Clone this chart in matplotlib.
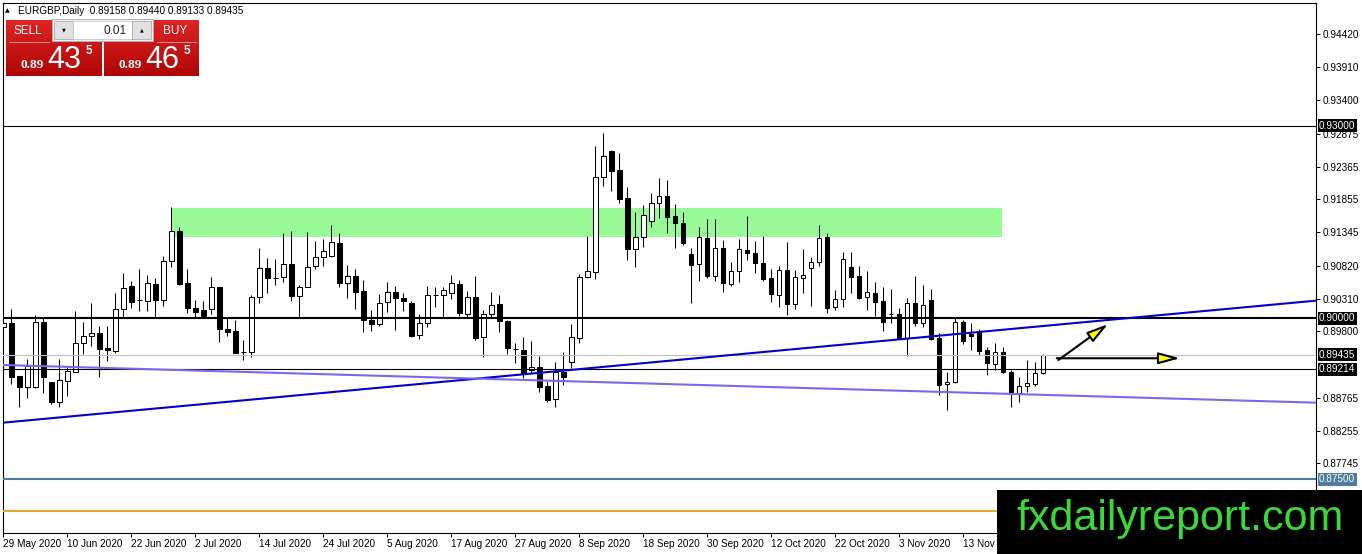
import numpy as np
import matplotlib
matplotlib.use("Agg")
import matplotlib.pyplot as plt
from matplotlib.patches import Rectangle

plt.rcParams['font.family'] = ['Liberation Sans', 'DejaVu Sans']

# EURGBP daily candles, 29 May 2020 .. 27 Nov 2020 (bar index 0..130)
opens = [0.89872, 0.89925, 0.89105, 0.88939, 0.88939, 0.89941, 0.89007, 0.88705, 0.89032, 0.89172,
         0.89614, 0.89728, 0.89770, 0.89536, 0.89494, 0.90143, 0.90506, 0.90288, 0.90277, 0.90532,
         0.90283, 0.90890, 0.91357, 0.90548, 0.90159, 0.90132, 0.90148, 0.90485, 0.89832, 0.89805,
         0.89474, 0.89483, 0.90330, 0.90781, 0.90626, 0.90650, 0.90843, 0.90355, 0.90495, 0.90822,
         0.90962, 0.90977, 0.91179, 0.90548, 0.90666, 0.90428, 0.89977, 0.89914, 0.90252, 0.90408,
         0.90314, 0.90246, 0.89743, 0.89925, 0.90366, 0.90366, 0.90392, 0.90532, 0.90065, 0.90330,
         0.89707, 0.90065, 0.90226, 0.89966, 0.89525, 0.89510, 0.89199, 0.89241, 0.88950, 0.88743,
         0.89172, 0.89328, 0.89692, 0.90650, 0.90728, 0.92206, 0.92606, 0.92311, 0.91870, 0.91077,
         0.91273, 0.91522, 0.91793, 0.91906, 0.91595, 0.91481, 0.91004, 0.90843, 0.91257, 0.90666,
         0.91092, 0.90532, 0.90739, 0.91066, 0.91024, 0.90868, 0.90626, 0.90366, 0.90755, 0.90226,
         0.90626, 0.90781, 0.90874, 0.91263, 0.90174, 0.90299, 0.90797, 0.90661, 0.90330, 0.90401,
         0.90272, 0.90070, 0.90070, 0.89692, 0.90237, 0.89925, 0.90288, 0.89701, 0.88976, 0.89017,
         0.89950, 0.89759, 0.89795, 0.89510, 0.89292, 0.89483, 0.89172, 0.88836, 0.88954, 0.88981,
         0.89158]
highs = [0.90521, 0.90143, 0.89110, 0.89370, 0.90054, 0.90003, 0.89010, 0.89370, 0.89250, 0.90117,
         0.89950, 0.90237, 0.89883, 0.89883, 0.90401, 0.90703, 0.90588, 0.90766, 0.90677, 0.90626,
         0.90973, 0.91740, 0.91419, 0.90766, 0.90288, 0.90272, 0.90641, 0.90495, 0.90003, 0.89977,
         0.89665, 0.90366, 0.91092, 0.90937, 0.90921, 0.91326, 0.91362, 0.90521, 0.91341, 0.91211,
         0.91232, 0.91455, 0.91326, 0.90832, 0.90770, 0.90599, 0.90132, 0.90377, 0.90563, 0.90506,
         0.90401, 0.90272, 0.90070, 0.90506, 0.90495, 0.90495, 0.90677, 0.90599, 0.90428, 0.90661,
         0.90132, 0.90417, 0.90366, 0.89977, 0.89614, 0.89717, 0.89650, 0.89421, 0.89027, 0.89318,
         0.89483, 0.89910, 0.90688, 0.91284, 0.92689, 0.92882, 0.92622, 0.92571, 0.92046, 0.91662,
         0.91766, 0.91948, 0.92182, 0.92155, 0.91782, 0.91652, 0.91092, 0.91428, 0.91548, 0.91548,
         0.91221, 0.90884, 0.91232, 0.91595, 0.91206, 0.91284, 0.90766, 0.90817, 0.91195, 0.90755,
         0.91077, 0.90962, 0.91455, 0.91335, 0.90443, 0.91039, 0.91030, 0.90817, 0.90739, 0.90563,
         0.90495, 0.90454, 0.90159, 0.90314, 0.90661, 0.90521, 0.90454, 0.89770, 0.89163, 0.90019,
         0.89977, 0.89925, 0.89832, 0.89561, 0.89619, 0.89561, 0.89199, 0.89085, 0.89354, 0.89328,
         0.89440]
lows = [0.89774, 0.88981, 0.88628, 0.88763, 0.88919, 0.88836, 0.88665, 0.88618, 0.88799, 0.89163,
        0.89443, 0.89572, 0.89094, 0.89343, 0.89468, 0.90028, 0.90168, 0.90121, 0.90121, 0.90003,
        0.90199, 0.90806, 0.90525, 0.90090, 0.90012, 0.90003, 0.90070, 0.89639, 0.89728, 0.89459,
        0.89354, 0.89406, 0.90246, 0.90401, 0.90521, 0.90573, 0.90277, 0.90003, 0.90486, 0.90770,
        0.90817, 0.90952, 0.90495, 0.90324, 0.90143, 0.89785, 0.89805, 0.89883, 0.90106, 0.89821,
        0.90121, 0.89707, 0.89676, 0.89863, 0.90184, 0.90003, 0.90299, 0.90044, 0.90003, 0.89665,
        0.89406, 0.90003, 0.89795, 0.89443, 0.89303, 0.89070, 0.89157, 0.88852, 0.88705, 0.88628,
        0.88965, 0.89234, 0.89614, 0.90626, 0.90615, 0.92062, 0.91984, 0.91802, 0.90910, 0.90806,
        0.91117, 0.91428, 0.91559, 0.91335, 0.91102, 0.91144, 0.90237, 0.90584, 0.90635, 0.90588,
        0.90417, 0.90510, 0.90573, 0.90910, 0.90713, 0.90588, 0.90261, 0.90174, 0.90054, 0.90143,
        0.90401, 0.90195, 0.90822, 0.90081, 0.90132, 0.90184, 0.90392, 0.90303, 0.90132, 0.90039,
        0.89810, 0.89935, 0.89675, 0.89416, 0.89888, 0.89872, 0.89665, 0.88810, 0.88576, 0.89001,
        0.89599, 0.89510, 0.89432, 0.89121, 0.89194, 0.89147, 0.88628, 0.88705, 0.88861, 0.88954,
        0.89133]
closes = [0.89925, 0.89094, 0.88939, 0.89261, 0.89941, 0.89085, 0.88705, 0.89043, 0.89183, 0.89614,
          0.89728, 0.89770, 0.89530, 0.89505, 0.90143, 0.90470, 0.90261, 0.90288, 0.90548, 0.90283,
          0.90890, 0.91357, 0.90532, 0.90159, 0.90106, 0.90044, 0.90485, 0.89832, 0.89795, 0.89468,
          0.89474, 0.90330, 0.90781, 0.90626, 0.90626, 0.90843, 0.90355, 0.90495, 0.90806, 0.90962,
          0.91055, 0.91186, 0.90557, 0.90666, 0.90417, 0.89977, 0.89910, 0.90237, 0.90408, 0.90324,
          0.90277, 0.89728, 0.89925, 0.90366, 0.90366, 0.90443, 0.90548, 0.90081, 0.90330, 0.89701,
          0.90065, 0.90210, 0.89961, 0.89536, 0.89525, 0.89147, 0.89241, 0.88939, 0.88732, 0.89163,
          0.89094, 0.89707, 0.90650, 0.90739, 0.92206, 0.92533, 0.92300, 0.91859, 0.91077, 0.91273,
          0.91610, 0.91793, 0.91906, 0.91584, 0.91491, 0.91170, 0.90832, 0.91263, 0.90661, 0.91092,
          0.90548, 0.90739, 0.91077, 0.91015, 0.90859, 0.90615, 0.90381, 0.90755, 0.90221, 0.90641,
          0.90672, 0.90874, 0.91248, 0.90168, 0.90299, 0.90921, 0.90650, 0.90324, 0.90408, 0.90261,
          0.89941, 0.90070, 0.89681, 0.90237, 0.89925, 0.90205, 0.89681, 0.88965, 0.89017, 0.89941,
          0.89655, 0.89728, 0.89499, 0.89303, 0.89479, 0.89172, 0.88836, 0.88954, 0.88992, 0.89147,
          0.89435]

date_labels = ["29 May 2020", "10 Jun 2020", "22 Jun 2020", "2 Jul 2020", "14 Jul 2020",
               "24 Jul 2020", "5 Aug 2020", "17 Aug 2020", "27 Aug 2020", "8 Sep 2020",
               "18 Sep 2020", "30 Sep 2020", "12 Oct 2020", "22 Oct 2020", "3 Nov 2020",
               "13 Nov 2020", "25 Nov 2020"]
price_ticks = [0.94420, 0.93910, 0.93400, 0.92875, 0.92365, 0.91855, 0.91345, 0.90820,
               0.90310, 0.89800, 0.88765, 0.88255, 0.87745]

# drawn objects
level_930 = 0.93000
level_900 = 0.90000
level_892 = 0.89214
level_875 = 0.87500
level_870 = 0.87000
zone_bars = (21, 124.9)
zone_prices = (0.91273, 0.91715)
blue_trend = [(0, 0.88379), (128, 0.89860)]
purple_trend = [(0, 0.89276), (128, 0.88819)]
arrow_up = [(131.9, 0.89354), (138.1, 0.89914)]
arrow_flat = [(131.7, 0.89381), (147.1, 0.89381)]

W, H = 1362, 554
fig = plt.figure(figsize=(W / 100, H / 100), dpi=100)
fig.patch.set_facecolor('white')
ax = fig.add_axes([3 / W, (H - 533) / H, 1313 / W, (533 - 2.7) / H])

x = np.arange(len(opens))
o = np.array(opens); c = np.array(closes)
bull = c >= o
ax.vlines(x, lows, highs, color='black', lw=0.75, zorder=3)
ax.bar(x[bull], (c - o)[bull], bottom=o[bull], width=0.56, facecolor='white',
       edgecolor='black', linewidth=0.75, zorder=4)
ax.bar(x[~bull], (c - o)[~bull], bottom=o[~bull], width=0.56, facecolor='black',
       edgecolor='black', linewidth=0.75, zorder=4)

ax.add_patch(Rectangle((zone_bars[0], zone_prices[0]), zone_bars[1] - zone_bars[0],
                       zone_prices[1] - zone_prices[0], facecolor='#98FB98', edgecolor='none', zorder=1))

ax.axhline(level_930, color='black', lw=0.8, zorder=5)
ax.axhline(level_900, color='black', lw=1.5, zorder=5)
ax.axhline(closes[-1], color='#C0C0C0', lw=0.8, zorder=5)
ax.axhline(level_892, color='black', lw=0.8, zorder=5)
ax.axhline(level_875, color='#4C7C9C', lw=1.5, zorder=5)
ax.axhline(level_870, color='#E6A832', lw=1.5, zorder=5)
ax.axline(blue_trend[0], blue_trend[1], color='#0000CD', lw=1.5, zorder=5)
ax.axline(purple_trend[0], purple_trend[1], color='#7B68EE', lw=1.5, zorder=5)

for start, end in (arrow_up, arrow_flat):
    ax.annotate('', xy=end, xytext=start,
                arrowprops=dict(arrowstyle='-|>,head_length=1.3,head_width=0.35',
                                facecolor='#FFFF00', edgecolor='black', lw=1.5,
                                shrinkA=0, shrinkB=0), zorder=6)

ax.set_xlim(-0.04, 164.1)
ax.set_ylim(0.86662, 0.94914)
for s in ax.spines.values():
    s.set_linewidth(0.8)

ax.yaxis.tick_right()
ax.set_yticks(price_ticks)
ax.set_yticklabels([f"{p:.5f}" for p in price_ticks])
ax.tick_params(axis='y', direction='out', length=3, width=0.7, labelsize=7.2, pad=2)
ax.set_xticks(np.arange(0, 8 * len(date_labels), 8))
ax.set_xticklabels(date_labels)
ax.tick_params(axis='x', direction='out', length=3, width=0.7, labelsize=7.2, pad=1.5)
for lbl in ax.get_xticklabels():
    lbl.set_horizontalalignment('left')

# price labels on the right scale
for lvl, bg in ((level_930, 'black'), (level_900, 'black'), (closes[-1], 'black'),
                (level_892, 'black'), (level_875, '#4C7C9C')):
    ax.annotate(f"{lvl:.5f}", xy=(1, lvl), xycoords=('axes fraction', 'data'),
                xytext=(3, 0), textcoords='offset pixels', ha='left', va='center',
                fontsize=7.2, color='white', annotation_clip=False, zorder=10,
                bbox=dict(boxstyle='square,pad=0.15', facecolor=bg, edgecolor='none'))

# overlay in pixel coordinates: header, trade panel, watermark
ov = fig.add_axes([0, 0, 1, 1], zorder=20)
ov.set_facecolor('none')
ov.axis('off')
ov.set_autoscale_on(False)
ov.set_xlim(0, W)
ov.set_ylim(H, 0)

ov.text(5, 10.5, '\u25B2', fontsize=4.5, va='center', family=['DejaVu Sans'])
ov.text(18, 10.5, f"EURGBP,Daily  {opens[-1]:.5f} {highs[-1]:.5f} {lows[-1]:.5f} {closes[-1]:.5f}",
        fontsize=7.2, va='center')


def red_box(x0, y0, x1, y1):
    t = np.linspace(0, 1, 40)[:, None, None]
    top = np.array([222, 36, 36]) / 255
    bot = np.array([176, 6, 6]) / 255
    img = top + t * (bot - top)
    ov.imshow(img, extent=(x0, x1, y1, y0), aspect='auto', zorder=2, interpolation='bilinear')


red_box(6, 20, 52, 76)
red_box(104, 20, 199, 76)
red_box(6, 20, 102, 76)
ov.add_patch(Rectangle((102, 42), 2, 34, facecolor='white', edgecolor='none', zorder=3))
ov.plot([9, 49], [41.5, 41.5], color='#F29090', lw=0.7, zorder=4)
ov.plot([157, 196], [41.5, 41.5], color='#F29090', lw=0.7, zorder=4)

# lot size control
ov.add_patch(Rectangle((52, 19), 101, 22, facecolor='#F2F2F2', edgecolor='#B0B0B0', lw=0.7, zorder=5))
ov.add_patch(Rectangle((54, 21), 19, 18, facecolor='#E1E1E1', edgecolor='#ADADAD', lw=0.6, zorder=6))
ov.add_patch(Rectangle((73, 21), 59, 18, facecolor='white', edgecolor='#C8C8C8', lw=0.6, zorder=6))
ov.add_patch(Rectangle((132, 21), 19, 18, facecolor='#E1E1E1', edgecolor='#ADADAD', lw=0.6, zorder=6))
ov.text(63.5, 30, '\u25BC', fontsize=3.5, ha='center', va='center', family=['DejaVu Sans'], zorder=7)
ov.text(141.5, 30, '\u25B2', fontsize=3.5, ha='center', va='center', family=['DejaVu Sans'], zorder=7)
ov.text(127, 30.5, '0.01', fontsize=8.5, ha='right', va='center', color='#222222', zorder=7)

ov.text(28, 31, 'SELL', fontsize=8.5, color='white', ha='center', va='center', zorder=7)
ov.text(175, 31, 'BUY', fontsize=8.5, color='white', ha='center', va='center', zorder=7)
for x0, big in ((0, '43'), (98, '46')):
    ov.text(32 + x0, 65, '0.89', fontsize=9.5, fontweight='bold', color='white', ha='center',
            va='center', family=['Liberation Serif'], zorder=7)
    ov.text(64.5 + x0, 59.5, big, fontsize=22, color='white', ha='center', va='center', zorder=7)
    ov.text(88.5 + x0, 51, '5', fontsize=8.5, fontweight='bold', color='white', ha='center',
            va='center', zorder=7)

# watermark
ov.add_patch(Rectangle((997, 490), W - 997, H - 490, facecolor='black', edgecolor='none', zorder=8))
ov.text(1180, 519, 'fxdailyreport.com', fontsize=31, color='#3AD83A', ha='center', va='center', zorder=9)

fig.savefig('out.png', dpi=100)
